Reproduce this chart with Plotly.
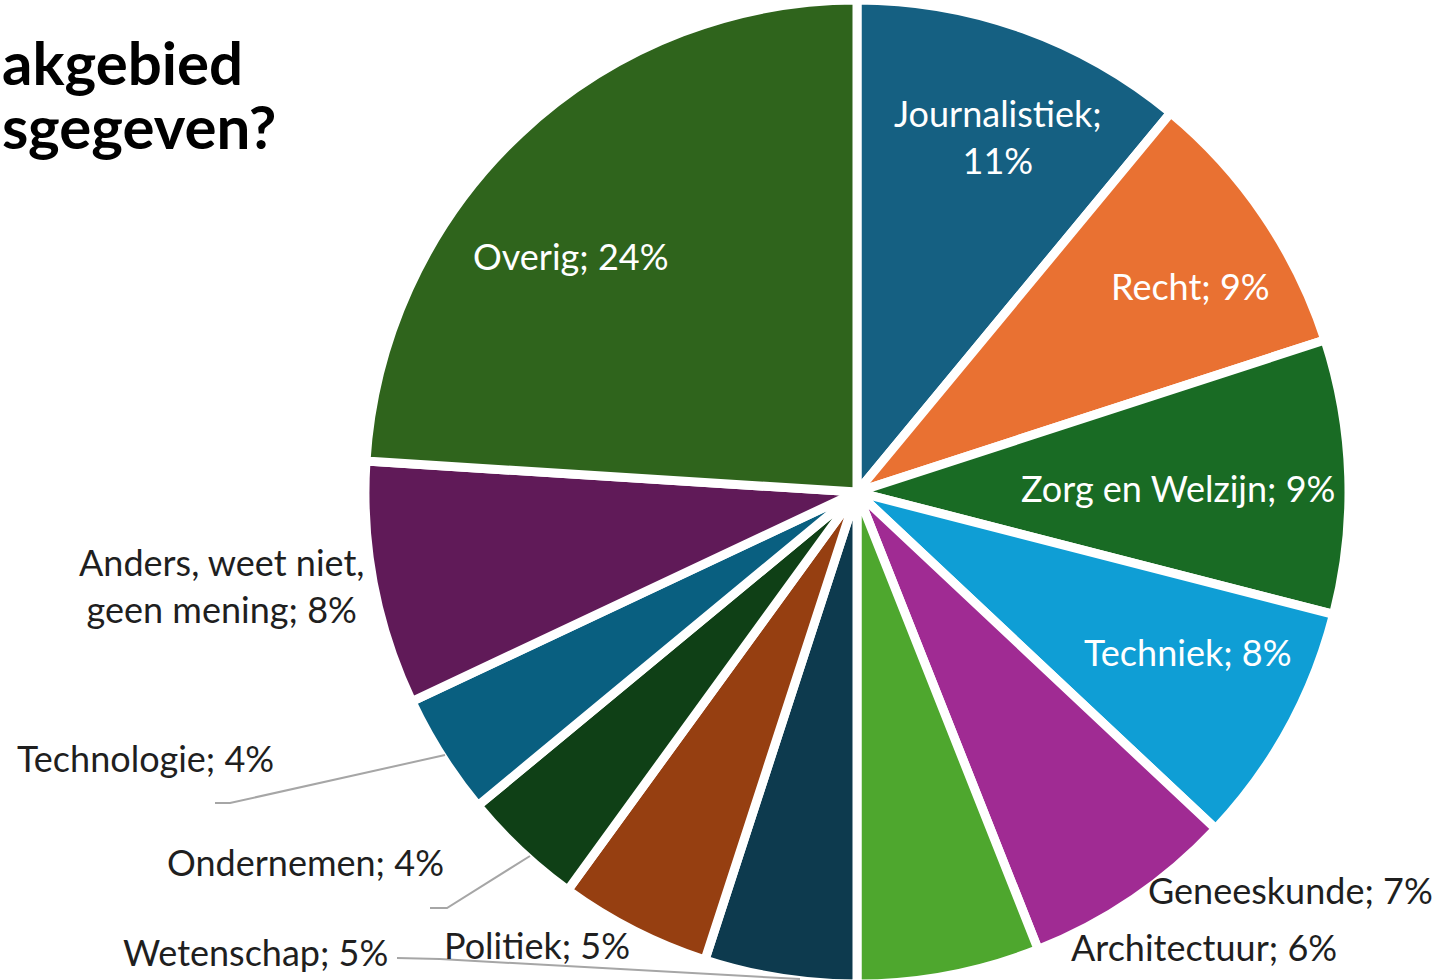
import plotly.graph_objects as go

# ---- data ----
labels = ["Journalistiek", "Recht", "Zorg en Welzijn", "Techniek", "Geneeskunde",
          "Architectuur", "Wetenschap", "Politiek", "Ondernemen", "Technologie",
          "Anders, weet niet, geen mening", "Overig"]
values = [11, 9, 9, 8, 7, 6, 5, 5, 4, 4, 8, 24]
colors = ["#156082", "#E97132", "#196B24", "#0F9ED5", "#A02B93", "#4EA72E",
          "#0D3A4E", "#963F11", "#0F4016", "#095F80", "#601A58", "#2F641C"]
title_lines = ["akgebied", "sgegeven?"]

# ---- label layout (pixel positions in the canvas) ----
W, H = 1443, 984
label_layout = {
    "Journalistiek": dict(x=998, y=137, color="white", text="Journalistiek;<br>11%"),
    "Recht": dict(x=1190, y=286, color="white"),
    "Zorg en Welzijn": dict(x=1178, y=488, color="white"),
    "Techniek": dict(x=1188, y=652, color="white"),
    "Geneeskunde": dict(x=1290, y=890, color="#1f1f1f"),
    "Architectuur": dict(x=1204, y=947, color="#1f1f1f"),
    "Wetenschap": dict(x=255, y=952, color="#1f1f1f"),
    "Politiek": dict(x=537, y=945, color="#1f1f1f"),
    "Ondernemen": dict(x=305, y=862, color="#1f1f1f"),
    "Technologie": dict(x=145, y=758, color="#1f1f1f"),
    "Anders, weet niet, geen mening": dict(x=222, y=585, color="#1f1f1f",
                                           text="Anders, weet niet,<br>geen mening; 8%"),
    "Overig": dict(x=571, y=256, color="white"),
}
title_pos = [(0, 62), (0, 126)]
leaders = [
    [(215, 803), (230, 803), (445, 755)],
    [(430, 908), (447, 908), (530, 856)],
    [(397, 958), (440, 959), (800, 979)],
]

def px(x):
    return x / W

def py(y):
    return 1 - y / H

cx, R = 857, H / 2

fig = go.Figure(go.Pie(
    labels=labels,
    values=values,
    sort=False,
    direction="clockwise",
    rotation=0,
    marker=dict(colors=colors, line=dict(color="white", width=9)),
    textinfo="none",
    hoverinfo="label+percent",
    showlegend=False,
    domain=dict(x=[(cx - R) / W, (cx + R) / W], y=[0, 1]),
))

font_family = "Lato, 'Noto Sans', sans-serif"
annotations = []
for lab, val in zip(labels, values):
    spec = label_layout[lab]
    txt = spec.get("text", f"{lab}; {val}%")
    annotations.append(dict(
        x=px(spec["x"]), y=py(spec["y"]), xref="paper", yref="paper",
        text=txt, showarrow=False, xanchor="center", yanchor="middle",
        font=dict(family=font_family, size=36, color=spec["color"]),
        align="center",
    ))

for line, (tx, ty) in zip(title_lines, title_pos):
    annotations.append(dict(
        x=px(tx), y=py(ty), xref="paper", yref="paper",
        text=f"<b>{line}</b>", showarrow=False, xanchor="left", yanchor="middle",
        align="left",
        font=dict(family="Lato, 'Noto Sans', sans-serif", size=60, color="black"),
    ))

shapes = []
for pts in leaders:
    path = "M " + " L ".join(f"{px(x):.5f},{py(y):.5f}" for x, y in pts)
    shapes.append(dict(type="path", path=path, xref="paper", yref="paper",
                       line=dict(color="#A6A6A6", width=2)))

fig.update_layout(
    width=W, height=H,
    margin=dict(l=0, r=0, t=0, b=0),
    paper_bgcolor="white",
    plot_bgcolor="white",
    annotations=annotations,
    shapes=shapes,
)

fig.write_html("out.html", config={"displayModeBar": False},
               post_script="document.body.style.margin='0';document.body.style.overflow='hidden';")
